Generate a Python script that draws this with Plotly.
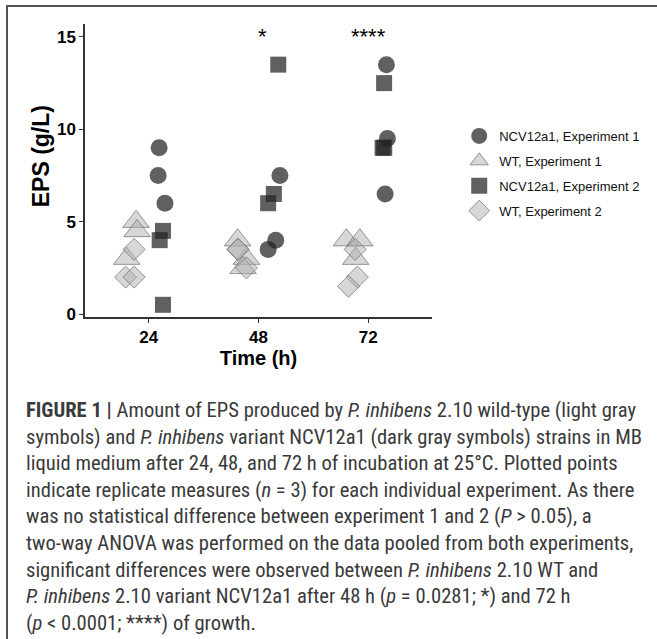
import plotly.graph_objects as go

# ---------------- data ----------------
time_labels = ["24", "48", "72"]
sample_time = ["24", "24", "24", "48", "48", "48", "72", "72", "72"]

ncv_exp1_eps = [9.0, 7.5, 6.0, 7.5, 4.0, 3.5, 13.5, 9.5, 6.5]
wt_exp1_eps = [5.0, 4.5, 3.0, 4.0, 3.0, 2.5, 4.0, 4.0, 3.0]
ncv_exp2_eps = [4.5, 4.0, 0.5, 6.5, 6.0, 13.5, 12.5, 9.0, 9.0]
wt_exp2_eps = [3.5, 2.0, 2.0, 3.5, 3.5, 2.5, 3.5, 2.0, 1.5]

# horizontal jitter/dodge (category units)
ncv_exp1_jit = [0.095, 0.086, 0.148, 0.195, 0.157, 0.088, 0.165, 0.174, 0.153]
wt_exp1_jit = [-0.115, -0.106, -0.20, -0.19, -0.11, -0.14, -0.20, -0.077, -0.115]
ncv_exp2_jit = [0.13, 0.10, 0.13, 0.14, 0.088, 0.18, 0.144, 0.13, 0.145]
wt_exp2_jit = [-0.133, -0.21, -0.133, -0.19, -0.185, -0.11, -0.12, -0.10, -0.18]

sig_labels = {"48": "*", "72": "****"}

caption_lines = [
    "<b>FIGURE 1 |</b> Amount of EPS produced by <i>P. inhibens</i> 2.10 wild-type (light gray",
    "symbols) and <i>P. inhibens</i> variant NCV12a1 (dark gray symbols) strains in MB",
    "liquid medium after 24, 48, and 72 h of incubation at 25°C. Plotted points",
    "indicate replicate measures (<i>n</i> = 3) for each individual experiment. As there",
    "was no statistical difference between experiment 1 and 2 (<i>P</i> > 0.05), a",
    "two-way ANOVA was performed on the data pooled from both experiments,",
    "significant differences were observed between <i>P. inhibens</i> 2.10 WT and",
    "<i>P. inhibens</i> 2.10 variant NCV12a1 after 48 h (<i>p</i> = 0.0281; *) and 72 h",
    "(<i>p</i> < 0.0001; ****) of growth.",
]

# ---------------- figure ----------------
W, H = 657, 639
L, R, T, B = 85, 442, 24, 317  # plot area in pixels


def px_x(px):
    return (px - L) / (R - L)


def px_y(py):
    return (B - py) / (B - T)


def xpos(times, jit):
    return [time_labels.index(t) + 1 + j for t, j in zip(times, jit)]


dark_fill = "rgba(35,35,35,0.72)"
light_fill = "rgba(175,175,175,0.5)"
light_line = "rgba(110,110,110,0.7)"

series = [
    ("NCV12a1, Experiment 1", ncv_exp1_eps, ncv_exp1_jit, "circle", 17, dark_fill, dark_fill, 0),
    ("WT, Experiment 1", wt_exp1_eps, wt_exp1_jit, "triangle-up", 23, light_fill, light_line, 1),
    ("NCV12a1, Experiment 2", ncv_exp2_eps, ncv_exp2_jit, "square", 16, dark_fill, dark_fill, 0),
    ("WT, Experiment 2", wt_exp2_eps, wt_exp2_jit, "diamond", 17, light_fill, light_line, 1),
]

fig = go.Figure()
for i, (name, ys, jit, sym, size, fill, line, lw) in enumerate(series):
    fig.add_trace(go.Scatter(
        x=xpos(sample_time, jit), y=ys, mode="markers", name=name,
        legendgroup=f"g{i}",
        marker=dict(symbol=sym, size=size, color=fill,
                    line=dict(color=line, width=lw)),
    ))

for t, lab in sig_labels.items():
    fig.add_annotation(x=time_labels.index(t) + 1 + (0.04 if lab == "*" else 0),
                       y=15.05, xref="x", yref="y", text=lab, showarrow=False,
                       font=dict(size=22, color="black", family="Liberation Sans, Arial"),
                       yanchor="middle")

# y-axis title
fig.add_annotation(x=px_x(40), y=px_y(156), xref="paper", yref="paper",
                   text="<b>EPS (g/L)</b>", textangle=-90, showarrow=False,
                   xanchor="center", yanchor="middle",
                   font=dict(size=23, color="black", family="Liberation Sans, Arial"))

# caption
cap_font = "Liberation Sans Narrow, Roboto Condensed, Roboto"
for i, line in enumerate(caption_lines):
    fig.add_annotation(x=px_x(22), y=px_y(410 + i * 26.6), xref="paper", yref="paper",
                       text=line, showarrow=False, xanchor="left", yanchor="middle",
                       align="left",
                       font=dict(size=20.6, color="#3a3a3a", family=cap_font))

axis_font = dict(family="Liberation Sans, Arial", size=17, color="black", weight="bold")
fig.update_layout(
    width=W, height=H,
    margin=dict(l=L, r=W - R, t=T, b=H - B, pad=0),
    paper_bgcolor="white", plot_bgcolor="white",
    font=dict(family="Liberation Sans, Arial", color="black"),
    showlegend=True,
    legend=dict(x=px_x(470), y=px_y(121), xanchor="left", yanchor="top",
                font=dict(size=13, family="Liberation Sans, Arial", color="#111"),
                bgcolor="rgba(0,0,0,0)", itemsizing="trace", tracegroupgap=5),
    xaxis=dict(range=[0.42, 3.58], tickmode="array", tickvals=[1, 2, 3],
               ticktext=time_labels, showgrid=False, zeroline=False,
               showline=True, linecolor="#333", linewidth=1.5,
               ticks="outside", ticklen=4, tickcolor="#333", tickwidth=1.2,
               tickfont=axis_font,
               title=dict(text="<b>Time (h)</b>", font=dict(size=20, family="Liberation Sans, Arial"),
                          standoff=2)),
    yaxis=dict(range=[-0.16, 15.7], tickmode="array", tickvals=[0, 5, 10, 15],
               showgrid=False, zeroline=False,
               showline=True, linecolor="#333", linewidth=1.5,
               ticks="outside", ticklen=4, tickcolor="#333", tickwidth=1.2,
               tickfont=axis_font),
)

# page reset + outer figure frame (top and left edges, as in the journal figure)
frame_js = (
    "document.body.style.margin='0';document.body.style.overflow='hidden';"
    "document.documentElement.style.overflow='hidden';"
    "var fr=document.createElement('div');"
    "fr.style.cssText='position:fixed;left:6px;top:5px;width:800px;height:800px;"
    "border-top:2px solid #555;border-left:2px solid #555;pointer-events:none;z-index:10;';"
    "document.body.appendChild(fr);"
)
fig.write_html("out.html", config={"displayModeBar": False}, post_script=frame_js)
